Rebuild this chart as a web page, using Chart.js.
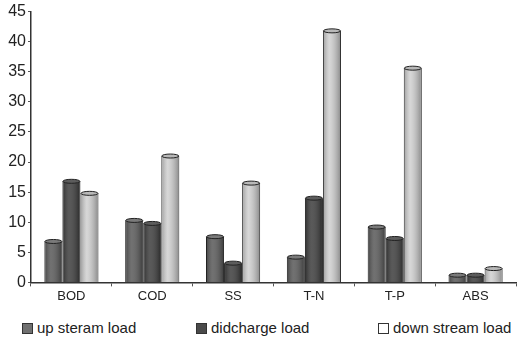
<!DOCTYPE html>
<html>
<head>
<meta charset="utf-8">
<script src="https://cdn.jsdelivr.net/npm/chart.js@4.4.0/dist/chart.umd.min.js"></script>
<style>
  html, body { margin: 0; padding: 0; background: #fff; }
  #wrap { position: relative; width: 517px; height: 341px; }
  #chartBox { position: absolute; left: 0; top: 0; width: 517px; height: 308px; }
  #legend {
    position: absolute; left: 0; top: 319px; width: 517px; height: 20px;
    font-family: "Liberation Sans", Arial, sans-serif; font-size: 15px; color: #222;
  }
  .item { position: absolute; top: 0; line-height: 17px; white-space: nowrap; }
  .box {
    display: inline-block; width: 9px; height: 9px; border: 1px solid #333;
    vertical-align: -1px; margin-right: 4px;
  }
</style>
</head>
<body>
<div id="wrap">
  <div id="chartBox"><canvas id="chart"></canvas></div>
  <div id="legend"></div>
</div>
<script>
const categories = ["BOD", "COD", "SS", "T-N", "T-P", "ABS"];
const upStream = [6.8, 10.3, 7.6, 4.2, 9.2, 1.2];
const discharge = [16.8, 9.8, 3.2, 14.0, 7.3, 1.2];
const downStream = [14.8, 21.0, 16.5, 41.8, 35.6, 2.3];
const yTicks = [0, 5, 10, 15, 20, 25, 30, 35, 40, 45];
const seriesNames = ["up steram load", "didcharge load", "down stream load"];

// Shade each bar like a cylinder and put an elliptical cap on top.
const cylinderPlugin = {
  id: "cylinder",
  afterDatasetsDraw(chart) {
    const ctx = chart.ctx;
    chart.data.datasets.forEach((ds, i) => {
      chart.getDatasetMeta(i).data.forEach((bar) => {
        const left = bar.x - bar.width / 2;
        const right = bar.x + bar.width / 2;
        const top = bar.y;
        const bottom = bar.base;
        const g = ctx.createLinearGradient(left, 0, right, 0);
        g.addColorStop(0, "rgba(0,0,0,0.25)");
        g.addColorStop(0.35, "rgba(255,255,255,0.15)");
        g.addColorStop(1, "rgba(0,0,0,0.35)");
        ctx.save();
        ctx.fillStyle = g;
        ctx.fillRect(left + 1, top, right - left - 2, bottom - top);
        ctx.beginPath();
        ctx.ellipse(bar.x, top, bar.width / 2 - 0.5, 2, 0, 0, Math.PI * 2);
        ctx.fillStyle = ds.capColor;
        ctx.fill();
        ctx.strokeStyle = "#222";
        ctx.lineWidth = 1;
        ctx.stroke();
        ctx.restore();
      });
    });
  }
};

const chart = new Chart(document.getElementById("chart"), {
  type: "bar",
  data: {
    labels: categories,
    datasets: [
      {
        label: seriesNames[0],
        data: upStream,
        backgroundColor: "#585858",
        borderColor: "#222",
        borderWidth: 1,
        capColor: "#7a7a7a",
        legendBox: "#707070"
      },
      {
        label: seriesNames[1],
        data: discharge,
        backgroundColor: "#3c3c3c",
        borderColor: "#1a1a1a",
        borderWidth: 1,
        capColor: "#5c5c5c",
        legendBox: "#4a4a4a"
      },
      {
        label: seriesNames[2],
        data: downStream,
        backgroundColor: "#d0d0d0",
        borderColor: "#333",
        borderWidth: 1,
        capColor: "#b8b8b8",
        legendBox: "#ffffff"
      }
    ]
  },
  options: {
    responsive: true,
    maintainAspectRatio: false,
    animation: false,
    layout: { padding: { top: 6, right: 1, left: 0, bottom: 2 } },
    datasets: {
      bar: { categoryPercentage: 0.67, barPercentage: 1 }
    },
    plugins: {
      tooltip: { enabled: false },
      legend: { display: false }
    },
    scales: {
      x: {
        grid: {
          offset: true,
          drawOnChartArea: false,
          tickLength: 4,
          color: "#555"
        },
        border: { color: "#333", width: 1.5 },
        ticks: {
          font: { family: "Liberation Sans, Arial, sans-serif", size: 13 },
          color: "#222",
          padding: 2
        }
      },
      y: {
        min: 0,
        max: 45,
        afterBuildTicks: (scale) => {
          scale.ticks = yTicks.map((v) => ({ value: v }));
        },
        afterFit: (scale) => {
          scale.width = 31;
        },
        grid: {
          drawOnChartArea: false,
          tickLength: 3,
          color: "#555"
        },
        border: { color: "#333", width: 1.5 },
        ticks: {
          autoSkip: false,
          font: { family: "Liberation Sans, Arial, sans-serif", size: 16 },
          color: "#222",
          padding: 2
        }
      }
    }
  },
  plugins: [cylinderPlugin]
});

// Legend as plain HTML text so the three items can sit spread out like the original.
const legendX = [22, 196, 378];
const legendEl = document.getElementById("legend");
chart.data.datasets.forEach((ds, i) => {
  const item = document.createElement("span");
  item.className = "item";
  item.style.left = legendX[i] + "px";
  const box = document.createElement("span");
  box.className = "box";
  box.style.background = ds.legendBox;
  item.appendChild(box);
  item.appendChild(document.createTextNode(ds.label));
  legendEl.appendChild(item);
});
</script>
</body>
</html>
